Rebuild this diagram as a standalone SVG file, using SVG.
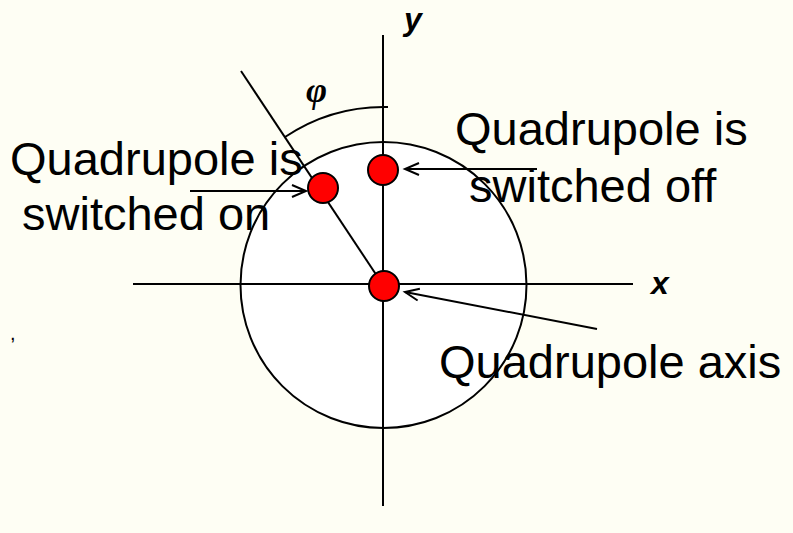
<svg xmlns="http://www.w3.org/2000/svg" width="793" height="533" viewBox="0 0 793 533">
<defs>
<style>
.ln{stroke:#000;stroke-width:2;fill:none}
.dot{fill:#FF0000;stroke:#000;stroke-width:2}
.lbl{font-family:"Liberation Sans",Arial,sans-serif;font-size:47px;fill:#000}
.ax{font-family:"Liberation Sans",Arial,sans-serif;font-size:32px;font-weight:bold;font-style:italic;fill:#000}
</style>
<marker id="ah" markerUnits="userSpaceOnUse" markerWidth="20" markerHeight="16" refX="15" refY="7" orient="auto">
<path d="M1,1 L15,7 L1,13" fill="none" stroke="#000" stroke-width="2"/>
</marker>
</defs>
<rect width="793" height="533" fill="#FEFEF4"/>
<g id="field">
<circle cx="383.5" cy="285" r="143" fill="#FFFFFF" stroke="#000" stroke-width="2"/>
</g>
<g id="axes">
<line class="ln" x1="383" y1="35" x2="383" y2="506"/>
<line class="ln" x1="133" y1="284" x2="633" y2="284"/>
<text class="ax" x="404" y="30">y</text>
<text class="ax" x="651" y="294">x</text>
</g>
<g id="angle">
<line class="ln" x1="241" y1="71" x2="383" y2="285"/>
<path class="ln" d="M285,137 A178,178 0 0 1 388,107"/>
<text x="306" y="102" font-family="Liberation Serif,'Times New Roman',serif" font-size="36" font-weight="bold" font-style="italic">φ</text>
</g>
<g id="connectors">
<line class="ln" x1="190" y1="191" x2="306" y2="191" marker-end="url(#ah)"/>
<line class="ln" x1="537" y1="169" x2="405" y2="169" marker-end="url(#ah)"/>
<line class="ln" x1="597" y1="329" x2="405" y2="292" marker-end="url(#ah)"/>
</g>
<g id="quad-on">
<circle class="dot" cx="323" cy="188" r="15"/>
</g>
<g id="quad-off">
<circle class="dot" cx="383" cy="170" r="15"/>
</g>
<g id="quad-axis">
<circle class="dot" cx="384" cy="286" r="15"/>
</g>
<g id="labels">
<text class="lbl" x="10" y="175">Quadrupole is</text>
<text class="lbl" x="22" y="230">switched on</text>
<text class="lbl" x="455" y="145">Quadrupole is</text>
<text class="lbl" x="469" y="202">switched off</text>
<text class="lbl" x="439" y="378">Quadrupole axis</text>
<text x="10" y="340" font-family="Liberation Sans,Arial,sans-serif" font-size="20">,</text>
</g>
</svg>
